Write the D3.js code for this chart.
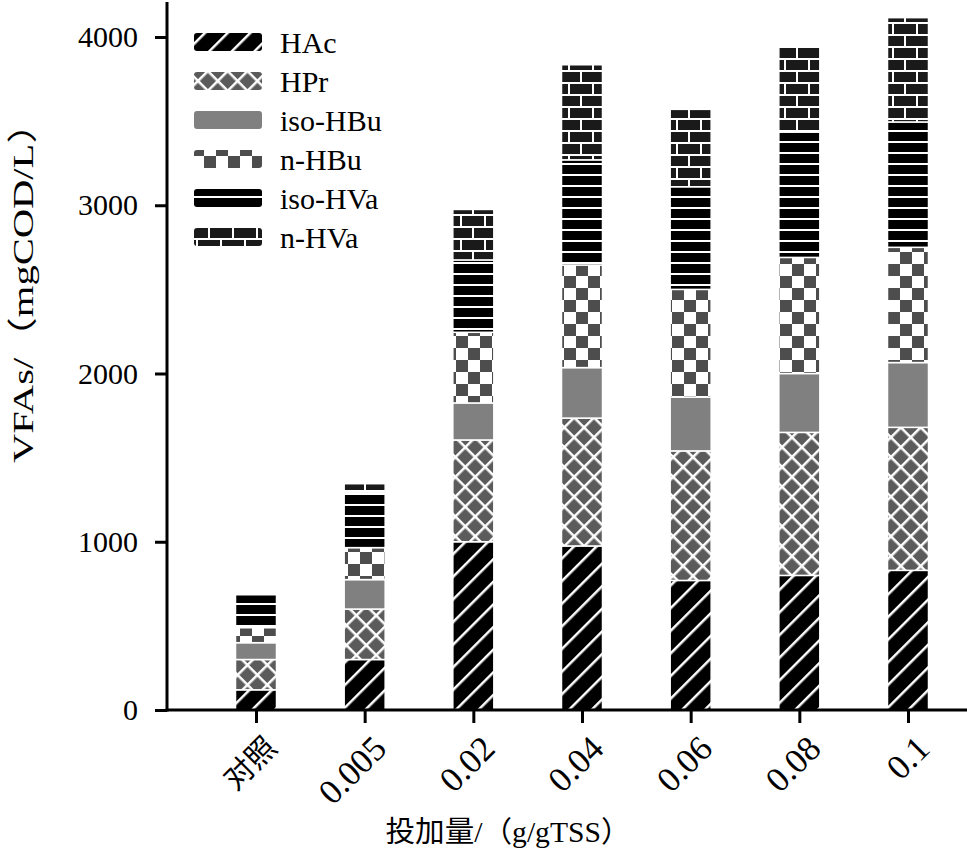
<!DOCTYPE html>
<html><head><meta charset="utf-8">
<script src="https://cdn.jsdelivr.net/npm/d3@7"></script>
<style>body{margin:0;background:#fff}svg{display:block}</style>
</head><body>
<script>
const categories = ["对照","0.005","0.02","0.04","0.06","0.08","0.1"];
const seriesNames = ["HAc","HPr","iso-HBu","n-HBu","iso-HVa","n-HVa"];
const HAc    = [120, 300, 1000, 975, 770, 800, 830];
const HPr    = [180, 300, 605, 760, 770, 850, 850];
const isoHBu = [100, 175, 220, 300, 320, 350, 385];
const nHBu   = [90, 190, 420, 610, 640, 690, 685];
const isoHVa = [195, 330, 430, 625, 610, 745, 745];
const nHVa   = [0, 50, 300, 565, 460, 515, 620];
const yTicks = [0, 1000, 2000, 3000, 4000];

const seriesVals = [HAc, HPr, isoHBu, nHBu, isoHVa, nHVa];
const patIds = ["pHAc","pHPr","pIsoHBu","pNHBu","pIsoHVa","pNHVa"];

const W = 967, H = 848;
const svg = d3.select("body").append("svg").attr("width", W).attr("height", H);
const defs = svg.append("defs");

// HAc: black with white diagonal lines
let p = defs.append("pattern").attr("id","pHAc").attr("patternUnits","userSpaceOnUse")
  .attr("width",16).attr("height",16).attr("patternTransform","rotate(45)");
p.append("rect").attr("width",16).attr("height",16).attr("fill","#000");
p.append("rect").attr("x",7).attr("width",2.5).attr("height",16).attr("fill","#fff");
// HPr: gray with white crosshatch
p = defs.append("pattern").attr("id","pHPr").attr("patternUnits","userSpaceOnUse")
  .attr("width",14).attr("height",14).attr("patternTransform","rotate(45)");
p.append("rect").attr("width",14).attr("height",14).attr("fill","#5b5b5b");
p.append("rect").attr("x",0).attr("width",2.5).attr("height",14).attr("fill","#fff");
p.append("rect").attr("y",0).attr("width",14).attr("height",2.5).attr("fill","#fff");
// iso-HBu: solid gray
p = defs.append("pattern").attr("id","pIsoHBu").attr("patternUnits","userSpaceOnUse")
  .attr("width",10).attr("height",10);
p.append("rect").attr("width",10).attr("height",10).attr("fill","#808080");
// n-HBu: checker
p = defs.append("pattern").attr("id","pNHBu").attr("patternUnits","userSpaceOnUse")
  .attr("width",24).attr("height",24);
p.append("rect").attr("width",24).attr("height",24).attr("fill","#fff");
p.append("rect").attr("x",0).attr("y",0).attr("width",12).attr("height",12).attr("fill","#4d4d4d");
p.append("rect").attr("x",12).attr("y",12).attr("width",12).attr("height",12).attr("fill","#4d4d4d");
// iso-HVa: black horizontal stripes
p = defs.append("pattern").attr("id","pIsoHVa").attr("patternUnits","userSpaceOnUse")
  .attr("width",10).attr("height",11);
p.append("rect").attr("width",10).attr("height",11).attr("fill","#000");
p.append("rect").attr("y",9).attr("width",10).attr("height",2).attr("fill","#fff");
// n-HVa: brick
p = defs.append("pattern").attr("id","pNHVa").attr("patternUnits","userSpaceOnUse")
  .attr("width",24).attr("height",24);
p.append("rect").attr("width",24).attr("height",24).attr("fill","#1a1a1a");
p.append("rect").attr("y",10).attr("width",24).attr("height",2).attr("fill","#fff");
p.append("rect").attr("y",22).attr("width",24).attr("height",2).attr("fill","#fff");
p.append("rect").attr("x",4).attr("y",0).attr("width",2).attr("height",10).attr("fill","#fff");
p.append("rect").attr("x",16).attr("y",12).attr("width",2).attr("height",10).attr("fill","#fff");

const x = d3.scalePoint().domain(categories).range([256, 908]);
const y = d3.scaleLinear().domain([0, 4000]).range([710, 37]);
const barW = 41;

// stacked data
const table = categories.map((c, i) => {
  const o = {cat: c};
  seriesNames.forEach((s, j) => o[s] = seriesVals[j][i]);
  return o;
});
const stack = d3.stack().keys(seriesNames)(table);

stack.forEach((layer, j) => {
  svg.append("g").selectAll("rect").data(layer).join("rect")
    .filter(d => d[1] - d[0] > 0)
    .attr("x", d => x(d.data.cat) - barW/2)
    .attr("y", d => y(d[1]))
    .attr("width", barW)
    .attr("height", d => y(d[0]) - y(d[1]))
    .attr("fill", `url(#${patIds[j]})`)
    .attr("stroke", "#fff").attr("stroke-width", 1.5);
});

// axes
const serif = "'Liberation Serif','DejaVu Serif',serif";
const serifCJK = "'Liberation Serif','Noto Sans CJK SC',serif";
const yAxis = svg.append("g").attr("transform","translate(167,0)")
  .call(d3.axisLeft(y).tickValues(yTicks).tickSize(12).tickPadding(17).tickFormat(d3.format("d")));
yAxis.select(".domain").remove();
yAxis.selectAll("line").attr("stroke","#000").attr("stroke-width",3);
yAxis.selectAll("text").attr("font-family",serif).attr("font-size",30).attr("fill","#000");
svg.append("line").attr("x1",167).attr("x2",167).attr("y1",2).attr("y2",711.5)
  .attr("stroke","#000").attr("stroke-width",3);

const xAxis = svg.append("g").attr("transform","translate(0,710)")
  .call(d3.axisBottom(x).tickSize(13).tickFormat(""));
xAxis.select(".domain").remove();
xAxis.selectAll("line").attr("stroke","#000").attr("stroke-width",3);
svg.append("line").attr("x1",165.5).attr("x2",967).attr("y1",710).attr("y2",710)
  .attr("stroke","#000").attr("stroke-width",3);

svg.append("g").selectAll("text").data(categories).join("text")
  .attr("transform", d => `translate(${x(d) + 15},${742}) rotate(-45)`)
  .attr("text-anchor","end")
  .attr("dy","0.35em")
  .attr("font-family", d => /[0-9]/.test(d) ? serif : "'Noto Sans CJK SC',sans-serif")
  .attr("font-size", d => /[0-9]/.test(d) ? 35 : 30)
  .attr("fill","#000")
  .text(d => d);

// axis titles
svg.append("text")
  .attr("transform","translate(33,283) rotate(-90)")
  .attr("text-anchor","middle")
  .attr("font-family",serifCJK).attr("font-size",30).attr("fill","#000")
  .attr("textLength",360).attr("lengthAdjust","spacingAndGlyphs")
  .text("VFAs/（mgCOD/L）");
svg.append("text")
  .attr("x",508).attr("y",842)
  .attr("text-anchor","middle")
  .attr("font-family",serifCJK).attr("font-size",29).attr("fill","#000")
  .attr("textLength",245).attr("lengthAdjust","spacingAndGlyphs")
  .text("投加量/（g/gTSS）");

// legend
const leg = svg.append("g");
seriesNames.forEach((s, j) => {
  const cy = 42 + 39 * j;
  leg.append("rect").attr("x",194).attr("y",cy-9).attr("width",68).attr("height",18)
    .attr("rx",3).attr("fill",`url(#${patIds[j]})`);
  leg.append("text").attr("x",280).attr("y",cy).attr("dy","0.35em")
    .attr("font-family",serif).attr("font-size",30).attr("fill","#000").text(s);
});
</script>
</body></html>
